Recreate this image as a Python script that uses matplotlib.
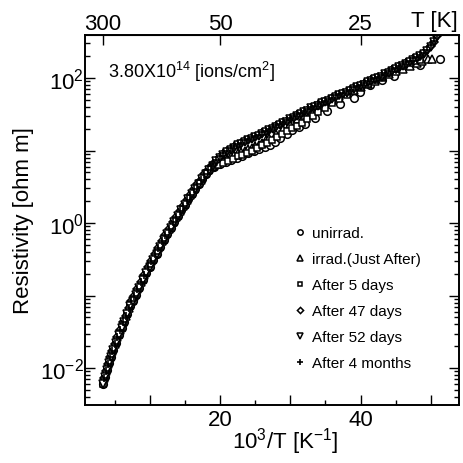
import numpy as np
import matplotlib
matplotlib.use("Agg")
import matplotlib.pyplot as plt
from matplotlib.ticker import FixedLocator, FixedFormatter, LogLocator, NullFormatter, MultipleLocator

plt.rcParams['font.family'] = ['Liberation Sans', 'DejaVu Sans']
plt.rcParams['mathtext.fontset'] = 'custom'
plt.rcParams['mathtext.rm'] = 'Liberation Sans'
plt.rcParams['mathtext.it'] = 'Liberation Sans'
plt.rcParams['mathtext.bf'] = 'Liberation Sans'

# ---------------- data (x = 10^3/T [1/K], log10 of resistivity [ohm m]) ----------------
# high-temperature part: all six runs coincide (readings along the lower and upper edge of the band)
common_a_x = [3.3, 3.6, 3.9, 4.2, 4.5, 4.8, 5.2, 5.6, 6.0, 6.4, 6.8, 7.2, 7.6, 8.0, 8.5,
              9.0, 9.5, 10.0, 10.5, 11.0, 11.5, 12.0, 12.5, 13.0, 13.5, 14.0, 14.5, 15.0,
              15.5, 16.0, 16.5, 17.0, 17.5, 18.0, 18.5]
common_a_log = [-2.22, -2.12, -2.02, -1.93, -1.84, -1.75, -1.65, -1.55, -1.45, -1.36, -1.26,
                -1.15, -1.07, -0.99, -0.89, -0.79, -0.69, -0.60, -0.51, -0.42, -0.33, -0.24,
                -0.15, -0.07, 0.02, 0.10, 0.18, 0.25, 0.33, 0.40, 0.47, 0.54, 0.61, 0.67, 0.73]
common_b_x = [3.45, 3.75, 4.05, 4.35, 4.65, 5.0, 5.4, 5.8, 6.2, 6.6, 7.0, 7.4, 7.8, 8.25,
              8.75, 9.25, 9.75, 10.25, 10.75, 11.25, 11.75, 12.25, 12.75, 13.25, 13.75,
              14.25, 14.75, 15.25, 15.75, 16.25, 16.75, 17.25, 17.75, 18.25, 18.75]
common_b_log = [-2.14, -2.04, -1.94, -1.85, -1.76, -1.67, -1.57, -1.47, -1.37, -1.28, -1.17,
                -1.08, -1.00, -0.91, -0.81, -0.71, -0.61, -0.52, -0.43, -0.34, -0.25, -0.16,
                -0.08, 0.01, 0.09, 0.17, 0.24, 0.32, 0.39, 0.47, 0.54, 0.60, 0.67, 0.73, 0.79]

# low-temperature parts
unirr_x = [19.2, 20.0, 20.8, 21.6, 22.4, 23.2, 24.0, 24.8, 25.6, 26.4, 27.1, 27.8, 28.6,
           29.5, 30.3, 31.2, 32.1, 33.5, 35.2, 37.1, 39.0, 39.9, 41.3, 43.0, 44.7, 48.5, 51.3]
unirr_log = [0.77, 0.81, 0.84, 0.87, 0.90, 0.93, 0.96, 0.99, 1.02, 1.05, 1.08, 1.12, 1.17,
             1.23, 1.28, 1.33, 1.37, 1.45, 1.54, 1.64, 1.72, 1.81, 1.90, 1.97, 2.03, 2.18, 2.26]

irr_x = [19.0, 19.5, 20.0, 20.5, 21.0, 21.5, 22.0, 22.5, 23.0, 23.5, 24.0, 24.5, 25.0, 25.5,
         26.0, 26.5, 27.0, 28.0, 29.0, 30.0, 31.0, 32.0, 33.0, 34.0, 35.0, 36.0, 37.0, 38.0,
         39.0, 40.0, 41.0, 42.0, 43.0, 44.0, 45.0, 46.0, 47.0, 48.0, 48.8, 49.6, 50.2]
irr_log = [0.79, 0.82, 0.85, 0.87, 0.89, 0.92, 0.94, 0.96, 0.98, 1.00, 1.02, 1.04, 1.06, 1.08,
           1.11, 1.14, 1.17, 1.23, 1.30, 1.37, 1.43, 1.49, 1.55, 1.60, 1.65, 1.70, 1.75, 1.79,
           1.84, 1.88, 1.92, 1.96, 2.01, 2.05, 2.09, 2.13, 2.17, 2.21, 2.24, 2.26, 2.26]

d5_x = [19.0, 19.7, 20.4, 21.1, 21.8, 22.5, 23.2, 23.9, 24.6, 25.3, 26.0, 26.7, 27.4, 28.1,
        28.8, 29.5, 30.2, 30.9, 31.6, 32.4, 33.2, 34.0, 35.0, 36.0, 37.0, 38.0, 39.0, 40.0,
        41.0, 42.0, 43.0, 44.0, 45.0, 46.0, 47.0, 47.8, 48.5]
d5_log = [0.77, 0.80, 0.83, 0.86, 0.89, 0.92, 0.94, 0.97, 1.00, 1.03, 1.07, 1.11, 1.15, 1.19,
          1.23, 1.27, 1.31, 1.34, 1.38, 1.43, 1.48, 1.53, 1.59, 1.65, 1.71, 1.77, 1.82, 1.87,
          1.92, 1.97, 2.02, 2.07, 2.12, 2.17, 2.21, 2.24, 2.25]

upper_x = [19.0, 19.5, 20.0, 20.5, 21.0, 21.5, 22.0, 22.5, 23.0, 23.5, 24.0, 24.5, 25.0, 25.5,
           26.0, 26.5, 27.0, 27.5, 28.0, 28.5, 29.0, 29.5, 30.0, 30.5, 31.0, 31.5, 32.0, 32.5,
           33.0, 33.5, 34.0, 34.5, 35.0, 35.5, 36.0, 36.5, 37.0, 37.5, 38.0, 38.5, 39.0, 39.5,
           40.0, 40.5, 41.0, 41.5, 42.0, 42.5, 43.0, 43.5, 44.0, 44.5, 45.0, 45.5, 46.0, 46.5,
           47.0, 47.5, 48.0, 48.5, 49.0, 49.5, 50.0, 50.4, 50.8]
d47_log = [0.80, 0.86, 0.91, 0.95, 0.99, 1.02, 1.05, 1.08, 1.10, 1.13, 1.15, 1.17, 1.19, 1.21,
           1.24, 1.26, 1.29, 1.31, 1.34, 1.36, 1.39, 1.41, 1.44, 1.46, 1.49, 1.51, 1.54, 1.56,
           1.59, 1.61, 1.63, 1.66, 1.68, 1.70, 1.72, 1.75, 1.77, 1.79, 1.81, 1.83, 1.86, 1.88,
           1.90, 1.92, 1.95, 1.97, 1.99, 2.01, 2.03, 2.06, 2.08, 2.11, 2.13, 2.16, 2.18, 2.21,
           2.23, 2.26, 2.28, 2.31, 2.34, 2.38, 2.44, 2.50, 2.58]
d52_log = [0.79, 0.85, 0.90, 0.94, 0.98, 1.01, 1.04, 1.07, 1.09, 1.12, 1.14, 1.16, 1.18, 1.20,
           1.23, 1.25, 1.28, 1.30, 1.33, 1.35, 1.38, 1.40, 1.43, 1.45, 1.48, 1.50, 1.53, 1.55,
           1.58, 1.60, 1.62, 1.65, 1.67, 1.69, 1.71, 1.74, 1.76, 1.78, 1.80, 1.82, 1.85, 1.87,
           1.89, 1.91, 1.94, 1.96, 1.98, 2.00, 2.02, 2.05, 2.07, 2.10, 2.12, 2.15, 2.17, 2.20,
           2.22, 2.25, 2.27, 2.30, 2.33, 2.37, 2.43, 2.49, 2.57]
m4_log = [0.81, 0.87, 0.92, 0.96, 1.00, 1.03, 1.06, 1.09, 1.11, 1.14, 1.16, 1.18, 1.20, 1.22,
          1.25, 1.27, 1.30, 1.32, 1.35, 1.37, 1.40, 1.42, 1.45, 1.47, 1.50, 1.52, 1.55, 1.57,
          1.60, 1.62, 1.64, 1.67, 1.69, 1.71, 1.73, 1.76, 1.78, 1.80, 1.82, 1.84, 1.87, 1.89,
          1.91, 1.93, 1.96, 1.98, 2.00, 2.02, 2.04, 2.07, 2.09, 2.12, 2.14, 2.17, 2.19, 2.22,
          2.24, 2.27, 2.29, 2.32, 2.35, 2.39, 2.45, 2.51, 2.59]

labels = ["unirrad.", "irrad.(Just After)", "After 5 days", "After 47 days",
          "After 52 days", "After 4 months"]
top_T_ticks = [300, 50, 25]
fluence_text = r"3.80X10$^{14}$ [ions/cm$^{2}$]"

series = [
    (common_a_x + unirr_x, common_a_log + unirr_log, 'o'),
    (common_b_x + irr_x, common_b_log + irr_log, '^'),
    (common_a_x + d5_x, common_a_log + d5_log, 's'),
    (common_b_x + upper_x, common_b_log + d47_log, 'D'),
    (common_a_x + upper_x, common_a_log + d52_log, 'v'),
    (common_b_x + upper_x, common_b_log + m4_log, '+'),
]
msizes = {'o': 5.5, '^': 5.2, 's': 5.0, 'D': 4.5, 'v': 5.2, '+': 5.5}

# ---------------- figure ----------------
fig = plt.figure(figsize=(4.64, 4.64), dpi=100)
ax = fig.add_axes([85/464, 1-406/464, (459-85)/464, (406-36)/464])

handles = []
for (xs, ls, m), lab in zip(series, labels):
    ys = 10.0 ** np.asarray(ls)
    if m == '+':
        h, = ax.plot(xs, ys, linestyle='none', marker=m, ms=msizes[m], mec='black',
                     mew=1.2, label=lab)
    else:
        h, = ax.plot(xs, ys, linestyle='none', marker=m, ms=msizes[m], mfc='white',
                     mec='black', mew=1.1, label=lab)
    handles.append(h)

ax.set_yscale('log')
ax.set_xlim(0.8, 54)
ax.set_ylim(3.1e-3, 392)

ax.xaxis.set_major_locator(FixedLocator([10, 20, 30, 40, 50]))
ax.xaxis.set_major_formatter(FixedFormatter(['', '20', '', '40', '']))
ax.xaxis.set_minor_locator(MultipleLocator(5))
ax.yaxis.set_major_locator(FixedLocator([1e-2, 1e-1, 1e0, 1e1, 1e2]))
ax.yaxis.set_major_formatter(FixedFormatter([r'10$^{-2}$', '', r'10$^{0}$', '', r'10$^{2}$']))
ax.yaxis.set_minor_locator(LogLocator(base=10, subs=np.arange(2, 10)))
ax.yaxis.set_minor_formatter(NullFormatter())

ax.tick_params(which='both', direction='in', top=False, right=True, labelsize=16,
               width=1.0, color='black')
ax.tick_params(which='major', length=7)
ax.tick_params(which='minor', length=3.5)
ax.tick_params(axis='x', pad=3)
ax.tick_params(axis='y', pad=1)
for s in ax.spines.values():
    s.set_linewidth(1.4)

def inv(v):
    v = np.asarray(v, dtype=float)
    with np.errstate(divide='ignore'):
        return 1000.0 / v

sec = ax.secondary_xaxis('top', functions=(inv, inv))
sec.set_xticks(top_T_ticks)
sec.set_xticklabels([str(t) for t in top_T_ticks])
sec.xaxis.set_minor_locator(FixedLocator([]))
sec.tick_params(direction='in', length=7, width=1.0, labelsize=16, pad=1)

fig.text(434/464, 1-22/464, "T [K]", fontsize=16, ha='center', va='center')

ax.set_ylabel("Resistivity [ohm m]", fontsize=16)
ax.yaxis.set_label_coords(-(85-34)/374, 0.5)
ax.set_xlabel(r"10$^{3}$/T [K$^{-1}$]", fontsize=16)
ax.xaxis.set_label_coords((285-85)/374, -(426-406)/370)

fig.text(108/464, 1-72/464, fluence_text, fontsize=13, ha='left', va='center')

leg = ax.legend(handles=handles, loc='upper left', bbox_to_anchor=((289-85)/374, 1-(221-36)/370),
                frameon=False, fontsize=11, handlelength=0.6, handletextpad=0.5,
                labelspacing=0.79, borderaxespad=0, markerscale=0.7)

fig.savefig("out.png", dpi=100)
